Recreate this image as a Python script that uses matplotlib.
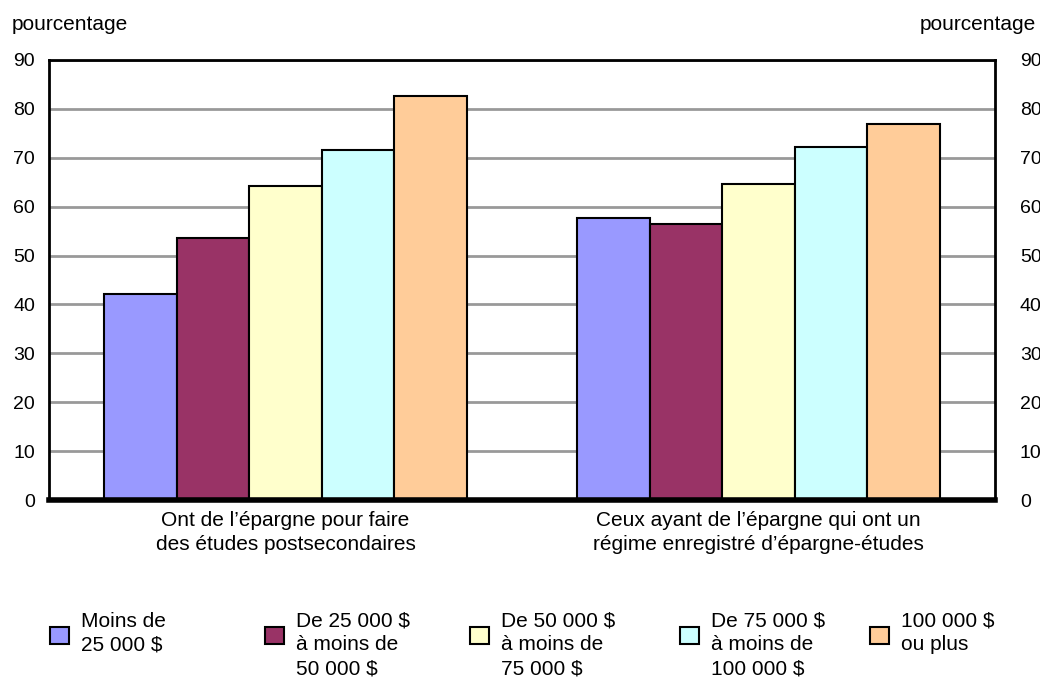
import numpy as np
import matplotlib.pyplot as plt
import matplotlib as mpl
from matplotlib.patches import Rectangle

mpl.rcParams['font.family'] = ['Liberation Sans Narrow', 'Liberation Sans', 'DejaVu Sans']
mpl.rcParams['font.size'] = 15

groups = ["Ont de l\u2019épargne pour faire\ndes études postsecondaires",
          "Ceux ayant de l\u2019épargne qui ont un\nrégime enregistré d\u2019épargne-études"]
series = ["Moins de\n25 000 $",
          "De 25 000 $\nà moins de\n50 000 $",
          "De 50 000 $\nà moins de\n75 000 $",
          "De 75 000 $\nà moins de\n100 000 $",
          "100 000 $\nou plus"]
values = [[42.1, 57.7],
          [53.6, 56.4],
          [64.2, 64.6],
          [71.6, 72.2],
          [82.6, 76.9]]
colors = ['#9999FF', '#993366', '#FFFFCC', '#CCFFFF', '#FFCC99']
yticks = [0, 10, 20, 30, 40, 50, 60, 70, 80, 90]

fig = plt.figure(figsize=(10.4, 6.8), dpi=100)
ax = fig.add_axes([0.0471, 0.2647, 0.9096, 0.6471])

x = np.arange(len(groups))
w = 0.1535
for i, (name, vals, c) in enumerate(zip(series, values, colors)):
    ax.bar(x + (i - 2) * w, vals, width=w, color=c, edgecolor='black',
           linewidth=1.5, zorder=3)

ax.set_xlim(-0.5, 1.5)
ax.set_ylim(0, 90)
ax.set_yticks(yticks)
ax.set_xticks(x)
ax.set_xticklabels(groups, linespacing=1.35)
ax.tick_params(axis='x', length=0, pad=8)
ax.tick_params(axis='y', length=0, pad=10, labelsize=14)
ax.yaxis.grid(True, color='#999999', linewidth=2, zorder=0)
for s in ['left', 'top', 'right']:
    ax.spines[s].set_linewidth(2)
ax.spines['bottom'].set_linewidth(4)
ax.spines['bottom'].set_zorder(5)

# right-hand axis labels
ax2 = ax.twinx()
ax2.set_ylim(0, 90)
ax2.set_yticks(yticks)
ax2.tick_params(axis='y', length=0, pad=18, labelsize=14)
for s in ax2.spines.values():
    s.set_visible(False)

fig.text(12 / 1040, 1 - 25 / 680, 'pourcentage', ha='left', va='center')
fig.text(1036 / 1040, 1 - 25 / 680, 'pourcentage', ha='right', va='center')

# legend, placed by hand
leg_x = [50, 265, 470, 680, 870]
for lx, name, c in zip(leg_x, series, colors):
    fig.patches.append(Rectangle((lx / 1040, 1 - 644 / 680), 19 / 1040, 17 / 680,
                                 transform=fig.transFigure, facecolor=c,
                                 edgecolor='black', linewidth=1.5))
    fig.text((lx + 31) / 1040, 1 - 612 / 680, name, ha='left', va='top',
             linespacing=1.3)

plt.savefig('out.png', dpi=100)
